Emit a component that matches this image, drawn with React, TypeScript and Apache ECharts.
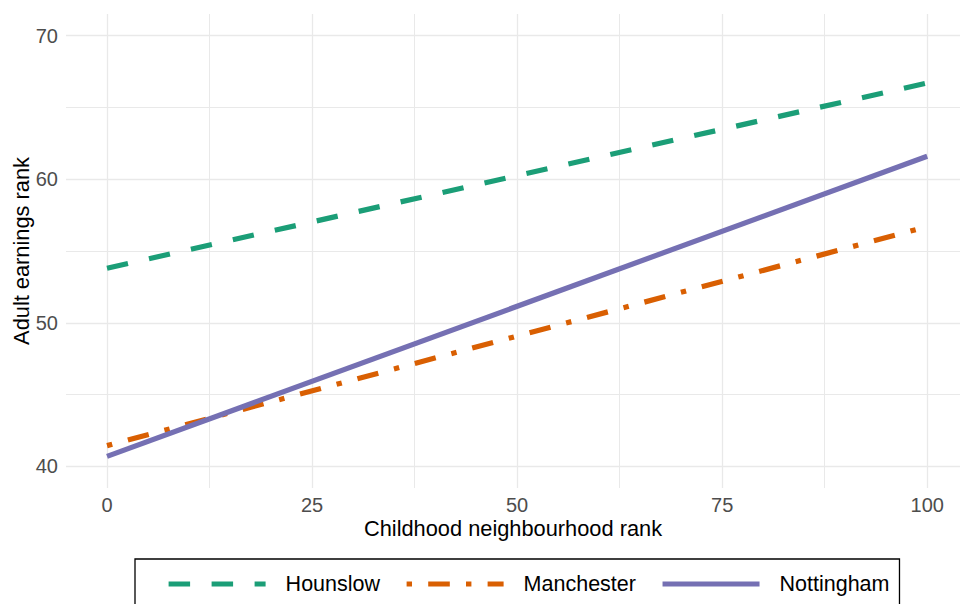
import React, { useEffect, useRef } from "react";
import * as echarts from "echarts";

const xValues = [0, 100];
const hounslow = [53.8, 66.7];
const manchester = [41.45, 56.7];
const nottingham = [40.7, 61.6];

const seriesNames = ["Hounslow", "Manchester", "Nottingham"];
const seriesColors = ["#1B9E77", "#D95F02", "#7570B3"];

const xMajor = [0, 25, 50, 75, 100];
const xMinor = [12.5, 37.5, 62.5, 87.5];
const yMajor = [40, 50, 60, 70];
const yMinor = [45, 55, 65];

const FONT = "'Liberation Sans', Arial, Helvetica, sans-serif";

export default function App() {
  const ref = useRef<HTMLDivElement>(null);

  useEffect(() => {
    document.body.style.margin = "0";
    if (!ref.current) return;
    const chart = echarts.init(ref.current, undefined, { renderer: "svg" });

    const toPairs = (ys: number[]) => xValues.map((x, i) => [x, ys[i]]);
    const lw = 5.2;
    const dashTypes: any[] = [[21.5, 21.5], [5.4, 16.2, 21.6, 16.2], "solid"];
    const values = [hounslow, manchester, nottingham];

    const gridLine = (w: number) => ({ color: "#E9E9E9", width: w, type: "solid" });

    const option: any = {
      animation: false,
      backgroundColor: "#ffffff",
      grid: {
        left: 66,
        right: 0,
        top: 14,
        bottom: 116,
        containLabel: false,
        outerBoundsMode: "none",
      },
      xAxis: {
        type: "value",
        min: -5,
        max: 104,
        axisLine: { show: false },
        axisTick: { show: false },
        splitLine: { show: false },
        axisLabel: {
          customValues: xMajor,
          color: "#4D4D4D",
          fontSize: 20,
          fontFamily: FONT,
          margin: 7,
        },
        name: "Childhood neighbourhood rank",
        nameLocation: "middle",
        nameGap: 29,
        nameMoveOverlap: false,
        nameTextStyle: { color: "#000", fontSize: 21.8, fontFamily: FONT },
      },
      yAxis: {
        type: "value",
        min: 38.5,
        max: 71.5,
        axisLine: { show: false },
        axisTick: { show: false },
        splitLine: { show: false },
        axisLabel: {
          customValues: yMajor,
          color: "#4D4D4D",
          fontSize: 20,
          fontFamily: FONT,
          margin: 8,
        },
        name: "Adult earnings rank",
        nameLocation: "middle",
        nameRotate: 90,
        nameGap: 34,
        nameMoveOverlap: false,
        nameTextStyle: { color: "#000", fontSize: 21.8, fontFamily: FONT },
      },
      legend: {
        data: seriesNames,
        left: 135,
        top: 559,
        orient: "horizontal",
        padding: [14, 10, 14, 31],
        borderColor: "#000",
        borderWidth: 1.3,
        itemWidth: 97,
        itemHeight: 20,
        itemGap: 24,
        itemStyle: { opacity: 0, borderWidth: 0 },
        lineStyle: { width: lw },
        textStyle: {
          color: "#000",
          fontSize: 21.5,
          fontFamily: FONT,
          padding: [0, 0, 0, 15],
        },
      },
      series: [
        {
          name: "__grid",
          type: "line",
          data: [],
          z: 1,
          silent: true,
          markLine: {
            silent: true,
            symbol: "none",
            z: 1,
            label: { show: false },
            emphasis: { disabled: true },
            data: [
              ...xMajor.map((v) => ({ xAxis: v, lineStyle: gridLine(1.3) })),
              ...xMinor.map((v) => ({ xAxis: v, lineStyle: gridLine(1.0) })),
              ...yMajor.map((v) => ({ yAxis: v, lineStyle: gridLine(1.3) })),
              ...yMinor.map((v) => ({ yAxis: v, lineStyle: gridLine(1.0) })),
            ],
          },
        },
        ...seriesNames.map((name, i) => ({
          name,
          type: "line",
          data: toPairs(values[i]),
          z: 3,
          symbol: "none",
          showSymbol: false,
          color: seriesColors[i],
          lineStyle: { color: seriesColors[i], width: lw, type: dashTypes[i], cap: "butt" },
          emphasis: { disabled: true },
        })),
      ],
    };

    chart.setOption(option);
    return () => chart.dispose();
  }, []);

  return (
    <div
      ref={ref}
      style={{ position: "fixed", left: 0, top: 0, width: 960, height: 604, background: "#fff" }}
    />
  );
}
